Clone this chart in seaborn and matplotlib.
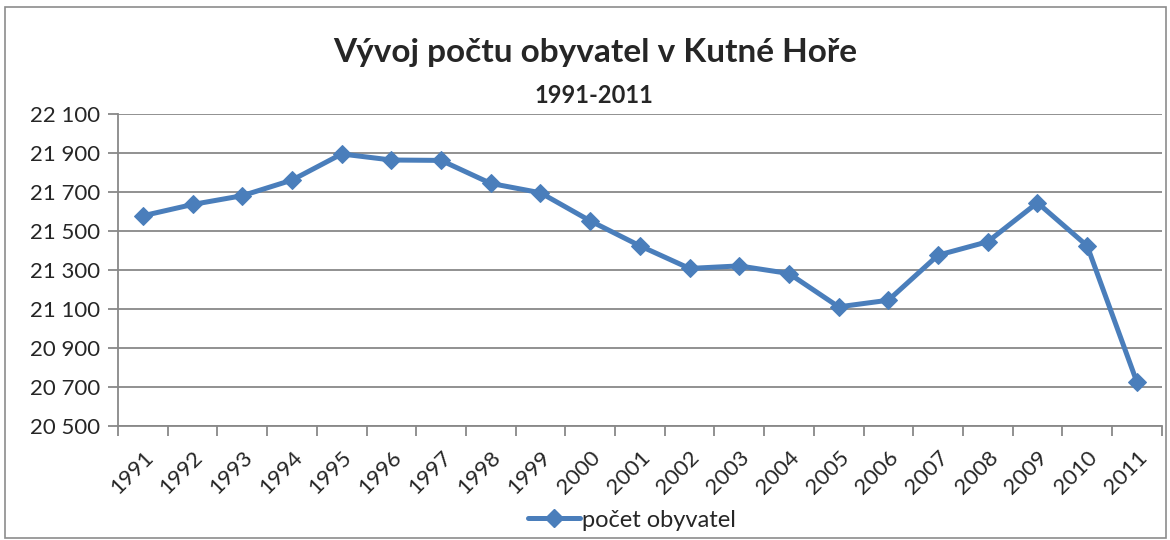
import numpy as np
import pandas as pd
import matplotlib.pyplot as plt
import seaborn as sns
from matplotlib.ticker import FuncFormatter, MultipleLocator
from matplotlib.patches import Rectangle
from matplotlib.lines import Line2D

# ----------------------- data -----------------------
years = list(range(1991, 2012))
obyvatel = [21578, 21636, 21681, 21761, 21895, 21864, 21862, 21744, 21696, 21552,
            21424, 21308, 21321, 21282, 21111, 21145, 21376, 21445, 21645, 21424, 20726]
y_ticks = list(range(20500, 22101, 200))

title = 'Vývoj počtu obyvatel v Kutné Hoře'
subtitle = '1991-2011'
series_name = 'počet obyvatel'

df = pd.DataFrame({'rok': years, 'obyvatel': obyvatel})

# ----------------------- style ------------------------------------------
sns.set_style('white')
plt.rcParams['font.family'] = ['Lato', 'DejaVu Sans']

blue = '#4A7EBB'
grid_gray = '#888888'

fig = plt.figure(figsize=(11.7, 5.4), dpi=100)
ax = fig.add_axes([0.1009, 0.2111, 0.8920, 0.5778])

sns.lineplot(data=df, x='rok', y='obyvatel', ax=ax, color=blue, linewidth=3.6,
             marker='D', markersize=9, markeredgecolor=blue, legend=False)

ax.set_xlim(years[0] - 0.5, years[-1] + 0.5)
ax.set_ylim(y_ticks[0], y_ticks[-1])
ax.set_yticks(y_ticks)
ax.yaxis.set_major_formatter(FuncFormatter(lambda v, p: f'{int(v):,}'.replace(',', ' ')))
ax.set_xticks(years)
ax.set_xticklabels([str(y) for y in years], rotation=45, ha='right', va='top',
                   rotation_mode='anchor')
ax.xaxis.set_minor_locator(MultipleLocator(1, offset=0.5))

ax.set_xlabel('')
ax.set_ylabel('')
ax.grid(axis='y', color=grid_gray, linewidth=1.3)
ax.set_axisbelow(True)

for s in ['top', 'right']:
    ax.spines[s].set_visible(False)
for s in ['left', 'bottom']:
    ax.spines[s].set_color(grid_gray)
    ax.spines[s].set_linewidth(1.3)

ax.tick_params(axis='y', which='major', left=True, length=7, color=grid_gray,
               width=1.3, labelsize=16, pad=6)
ax.tick_params(axis='x', which='major', bottom=False, labelsize=16, pad=12)
ax.tick_params(axis='x', which='minor', bottom=True, length=7, color=grid_gray, width=1.3)

# ----------------------- titles, legend, border ------------------------
fig.text(0.509, 0.902, title, ha='center', va='center', fontsize=24, fontweight='bold')
fig.text(0.508, 0.824, subtitle, ha='center', va='center', fontsize=17, fontweight='bold')

handle = Line2D([], [], color=blue, linewidth=3.6, marker='D', markersize=9)
fig.legend([handle], [series_name], loc='center', bbox_to_anchor=(0.54, 0.037),
           frameon=False, fontsize=17, handlelength=2.2, handletextpad=0.1)

fig.patches.append(Rectangle((0.004, 0.003), 0.993, 0.984, transform=fig.transFigure,
                             fill=False, edgecolor='#8C8C8C', linewidth=1.2))

fig.savefig('out.png', dpi=100)
